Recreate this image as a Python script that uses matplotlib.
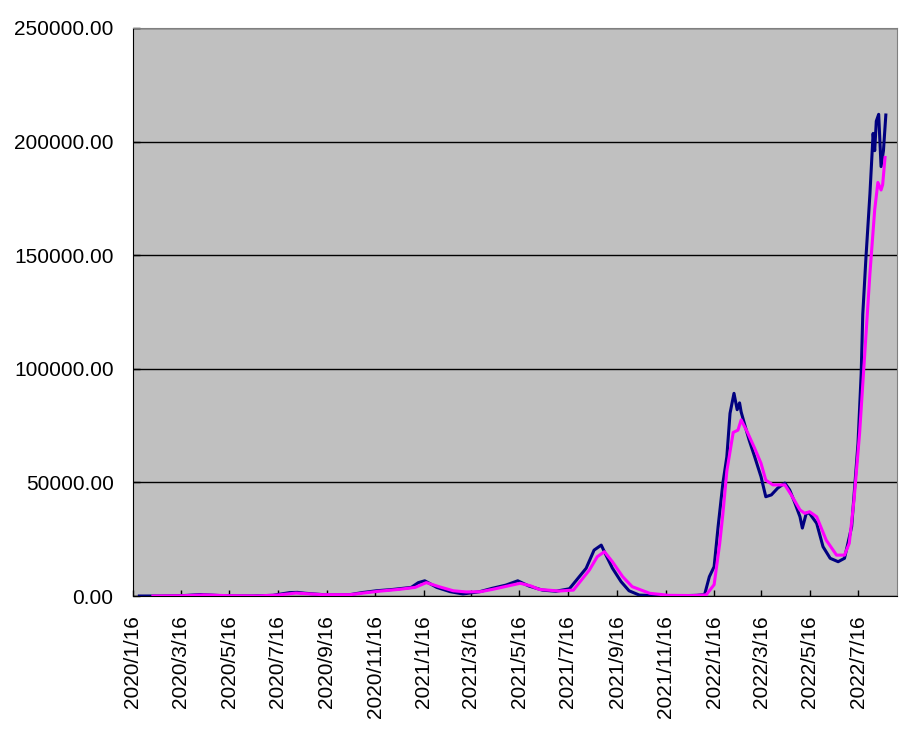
import numpy as np
import pandas as pd
import matplotlib
matplotlib.use("Agg")
import matplotlib.pyplot as plt
from matplotlib.ticker import FuncFormatter

plt.rcParams['font.family'] = ['Liberation Sans', 'DejaVu Sans']

# daily new cases (navy)
daily_dates = [
    "2020-01-24", "2020-02-20", "2020-03-20", "2020-04-10", "2020-05-10",
    "2020-06-15", "2020-07-10", "2020-07-31", "2020-08-10", "2020-08-20",
    "2020-09-15", "2020-10-15", "2020-10-30", "2020-11-17", "2020-12-08",
    "2020-12-31", "2021-01-09", "2021-01-17", "2021-02-01", "2021-02-18",
    "2021-03-06", "2021-03-27", "2021-04-12", "2021-04-29", "2021-05-14",
    "2021-05-28", "2021-06-14", "2021-07-01", "2021-07-18", "2021-08-08",
    "2021-08-18", "2021-08-27", "2021-09-02", "2021-09-10", "2021-09-21",
    "2021-10-01", "2021-10-14", "2021-11-01", "2021-12-01", "2021-12-25",
    "2022-01-04", "2022-01-10", "2022-01-16", "2022-01-21", "2022-01-27",
    "2022-02-01", "2022-02-05", "2022-02-10", "2022-02-14", "2022-02-17",
    "2022-02-19", "2022-02-23", "2022-03-01", "2022-03-08", "2022-03-16",
    "2022-03-22", "2022-03-29", "2022-04-06", "2022-04-15", "2022-04-21",
    "2022-04-27", "2022-05-04", "2022-05-07", "2022-05-12", "2022-05-16",
    "2022-05-25", "2022-06-02", "2022-06-11", "2022-06-21", "2022-06-29",
    "2022-07-08", "2022-07-16", "2022-07-20", "2022-07-22", "2022-07-26",
    "2022-07-31", "2022-08-04", "2022-08-06", "2022-08-08", "2022-08-11",
    "2022-08-14", "2022-08-17", "2022-08-20",
]
daily_vals = [
    0, 20, 200, 650, 100,
    50, 300, 1500, 1600, 1200,
    500, 600, 1500, 2300, 2900,
    3800, 5900, 6700, 3800, 1900,
    900, 1900, 3400, 4800, 6700,
    4400, 2600, 2100, 3200, 12200,
    20200, 22400, 18000, 12300, 6300,
    2300, 400, 200, 100, 300,
    600, 8500, 12900, 30500, 49600,
    61300, 80400, 89200, 82000, 85000,
    81000, 76000, 68700, 61300, 52500,
    43700, 44500, 47500, 49700, 46700,
    41500, 34900, 29900, 36500, 36400,
    32000, 21700, 16600, 15100, 16600,
    30500, 67200, 98000, 124000, 149000,
    177000, 203600, 196000, 209000, 212000,
    189000, 196000, 211700,
]

# 7-day average (magenta)
avg_dates = [
    "2020-02-10", "2020-03-20", "2020-04-14", "2020-05-15", "2020-06-20",
    "2020-07-15", "2020-08-08", "2020-09-10", "2020-10-15", "2020-11-20",
    "2020-12-15", "2021-01-05", "2021-01-19", "2021-02-05", "2021-02-22",
    "2021-03-10", "2021-03-28", "2021-04-12", "2021-04-30", "2021-05-17",
    "2021-05-30", "2021-06-10", "2021-07-05", "2021-07-23", "2021-08-12",
    "2021-08-22", "2021-08-31", "2021-09-10", "2021-09-23", "2021-10-05",
    "2021-10-27", "2021-11-20", "2021-12-20", "2022-01-06", "2022-01-16",
    "2022-01-23", "2022-01-27", "2022-02-01", "2022-02-09", "2022-02-15",
    "2022-02-19", "2022-02-27", "2022-03-08", "2022-03-16", "2022-03-22",
    "2022-03-31", "2022-04-15", "2022-04-23", "2022-05-04", "2022-05-10",
    "2022-05-16", "2022-05-25", "2022-06-06", "2022-06-19", "2022-06-29",
    "2022-07-05", "2022-07-11", "2022-07-18", "2022-07-24", "2022-07-31",
    "2022-08-06", "2022-08-10", "2022-08-14", "2022-08-16", "2022-08-19",
]
avg_vals = [
    0, 150, 500, 150, 60,
    400, 1300, 600, 600, 2100,
    2900, 3800, 5900, 4000, 2300,
    1800, 1900, 2900, 4300, 5600,
    4500, 2900, 2200, 2600, 11400,
    17300, 19500, 15100, 8500, 4100,
    1200, 300, 200, 500, 5000,
    23000, 36000, 55000, 72000, 73000,
    77500, 72000, 65000, 58400, 51000,
    48900, 48900, 44500, 37900, 36400,
    37100, 34900, 24600, 18000, 18000,
    23200, 42300, 71600, 104000, 142000,
    170000, 182000, 178700, 181000, 193000,
]

# ticks every two months on the 16th
tick_dates = pd.date_range("2020-01-01", "2022-07-01", freq="2MS") + pd.Timedelta(days=15)

fig = plt.figure(figsize=(9.21, 7.44), dpi=100)
ax = fig.add_axes([0.1444, 0.1989, 0.8295, 0.7635])
ax.set_facecolor("#C0C0C0")

ax.plot(pd.to_datetime(daily_dates), daily_vals, color="#000080", lw=2.2, zorder=3)
ax.plot(pd.to_datetime(avg_dates), avg_vals, color="#FF00FF", lw=2.2, zorder=4)

ax.set_ylim(0, 250000)
ax.set_yticks(np.arange(0, 250001, 50000))
ax.yaxis.set_major_formatter(FuncFormatter(lambda v, p: f"{v:.2f}"))
ax.grid(axis="y", color="black", lw=1)
ax.set_axisbelow(True)

ax.set_xlim(pd.Timestamp("2020-01-16"), pd.Timestamp("2022-09-03"))
ax.set_xticks(tick_dates)
ax.set_xticklabels([f"{d.year}/{d.month}/{d.day}" for d in tick_dates],
                   rotation=90, va="top", ha="center")

ax.tick_params(axis="x", direction="in", length=4, width=1, pad=14, labelsize=15)
ax.tick_params(axis="y", direction="in", length=5, width=1, pad=14, labelsize=15)

for side in ["top", "right"]:
    ax.spines[side].set_color("#808080")
for side in ["left", "bottom"]:
    ax.spines[side].set_color("black")

fig.savefig("out.png", dpi=100)
